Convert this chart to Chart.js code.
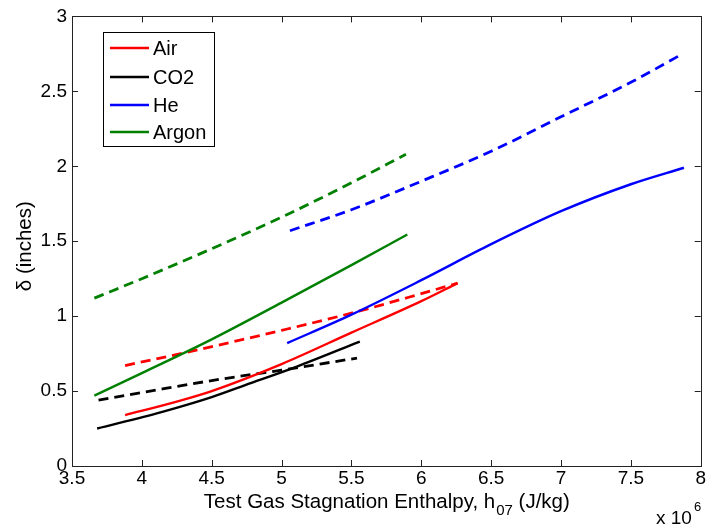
<!DOCTYPE html>
<html>
<head>
<meta charset="utf-8">
<script src="https://cdn.jsdelivr.net/npm/chart.js@4.4.1/dist/chart.umd.min.js"></script>
<style>
  html, body { margin: 0; padding: 0; background: #fff; }
  #wrap { width: 709px; height: 529px; }
</style>
</head>
<body>
<div id="wrap"><canvas id="chart" width="709" height="529"></canvas></div>
<script>
// Enthalpy values in units of 1e6 J/kg, delta in inches
const hAirSolid = [3.88, 4.25, 4.5, 5.0, 5.5, 6.0, 6.26];
const dAirSolid = [0.34, 0.43, 0.50, 0.68, 0.89, 1.10, 1.22];
const hAirDash = [3.88, 4.4, 5.0, 5.5, 6.0, 6.26];
const dAirDash = [0.67, 0.775, 0.905, 1.02, 1.15, 1.22];

const hCo2Solid = [3.68, 4.14, 4.5, 4.74, 5.1, 5.56];
const dCo2Solid = [0.25, 0.36, 0.46, 0.54, 0.66, 0.83];
const hCo2Dash = [3.69, 4.0, 4.5, 5.0, 5.54];
const dCo2Dash = [0.44, 0.49, 0.57, 0.64, 0.72];

const hHeSolid = [5.04, 5.5, 6.0, 6.5, 7.0, 7.5, 7.88];
const dHeSolid = [0.82, 1.01, 1.24, 1.48, 1.70, 1.88, 1.99];
const hHeDash = [5.06, 5.5, 6.0, 6.5, 7.0, 7.5, 7.85];
const dHeDash = [1.57, 1.71, 1.90, 2.10, 2.33, 2.56, 2.74];

const hArSolid = [3.66, 4.0, 4.5, 5.0, 5.5, 5.9];
const dArSolid = [0.47, 0.62, 0.845, 1.09, 1.34, 1.545];
const hArDash = [3.66, 4.0, 4.5, 5.0, 5.5, 5.89];
const dArDash = [1.12, 1.25, 1.45, 1.66, 1.89, 2.08];

const legendNames = ['Air', 'CO2', 'He', 'Argon'];
const legendColors = ['#ff0000', '#000000', '#0000ff', '#008000'];

const xTicks = [3.5, 4, 4.5, 5, 5.5, 6, 6.5, 7, 7.5, 8];
const yTicks = [0, 0.5, 1, 1.5, 2, 2.5, 3];

const FONT = '"Liberation Sans", Arial, sans-serif';

function pts(xs, ys) {
    return xs.map((x, i) => ({ x: x, y: ys[i] }));
}

function line(label, xs, ys, color, dashed) {
    return {
        label: label,
        data: pts(xs, ys),
        borderColor: color,
        borderWidth: dashed ? 2.8 : 2.4,
        borderDash: dashed ? [10, 6] : [],
        pointRadius: 0,
        fill: false,
        cubicInterpolationMode: 'monotone'
    };
}

// Inward ticks, box, legend, axis titles
const matlabLook = {
    id: 'matlabLook',
    afterDraw(chart) {
        const ctx = chart.ctx;
        const a = chart.chartArea;
        const xs = chart.scales.x, ys = chart.scales.y;
        ctx.save();
        ctx.strokeStyle = '#222';
        ctx.lineWidth = 1;
        ctx.beginPath();
        xTicks.forEach(v => {
            const px = Math.round(xs.getPixelForValue(v)) + 0.5;
            ctx.moveTo(px, a.bottom); ctx.lineTo(px, a.bottom - 6);
            ctx.moveTo(px, a.top); ctx.lineTo(px, a.top + 6);
        });
        yTicks.forEach(v => {
            const py = Math.round(ys.getPixelForValue(v)) + 0.5;
            ctx.moveTo(a.left, py); ctx.lineTo(a.left + 6, py);
            ctx.moveTo(a.right, py); ctx.lineTo(a.right - 6, py);
        });
        ctx.stroke();
        ctx.strokeRect(Math.round(a.left) + 0.5, Math.round(a.top) + 0.5,
            Math.round(a.right - a.left), Math.round(a.bottom - a.top));

        // legend
        ctx.fillStyle = '#fff';
        ctx.fillRect(103.5, 32.5, 111, 114);
        ctx.strokeStyle = '#000';
        ctx.strokeRect(103.5, 32.5, 111, 114);
        ctx.font = '20px ' + FONT;
        ctx.textBaseline = 'middle';
        ctx.textAlign = 'left';
        const rows = [48, 77, 105, 132];
        legendNames.forEach((name, i) => {
            ctx.strokeStyle = legendColors[i];
            ctx.lineWidth = 2.4;
            ctx.beginPath();
            ctx.moveTo(110, rows[i]); ctx.lineTo(149, rows[i]);
            ctx.stroke();
            ctx.fillStyle = '#000';
            ctx.fillText(name, 153, rows[i] + 1);
        });

        // x title with subscript
        ctx.fillStyle = '#000';
        ctx.textBaseline = 'alphabetic';
        const main = 'Test Gas Stagnation Enthalpy, h';
        const sub = '07';
        const tail = ' (J/kg)';
        ctx.font = '20.5px ' + FONT;
        const wMain = ctx.measureText(main).width;
        const wTail = ctx.measureText(tail).width;
        ctx.font = '15px ' + FONT;
        const wSub = ctx.measureText(sub).width;
        let x0 = (a.left + a.right) / 2 - (wMain + wSub + wTail) / 2;
        const base = 508;
        ctx.font = '20.5px ' + FONT;
        ctx.fillText(main, x0, base);
        ctx.font = '15px ' + FONT;
        ctx.fillText(sub, x0 + wMain + 1, base + 7);
        ctx.font = '20.5px ' + FONT;
        ctx.fillText(tail, x0 + wMain + wSub + 1, base);

        // exponent label
        ctx.font = '19px ' + FONT;
        ctx.fillText('x 10', 656, 524);
        ctx.font = '13px ' + FONT;
        ctx.fillText('6', 694, 511);

        // y title
        ctx.translate(25, (a.top + a.bottom) / 2 + 5);
        ctx.rotate(-Math.PI / 2);
        ctx.font = '20.5px ' + FONT;
        ctx.textAlign = 'center';
        ctx.textBaseline = 'middle';
        ctx.fillText('\u03b4 (inches)', 0, 0);
        ctx.restore();
    }
};

const chart = new Chart(document.getElementById('chart').getContext('2d'), {
    type: 'line',
    data: {
        datasets: [
            line('Air', hAirSolid, dAirSolid, '#ff0000', false),
            line('CO2', hCo2Solid, dCo2Solid, '#000000', false),
            line('He', hHeSolid, dHeSolid, '#0000ff', false),
            line('Argon', hArSolid, dArSolid, '#008000', false),
            line('Air (dashed)', hAirDash, dAirDash, '#ff0000', true),
            line('CO2 (dashed)', hCo2Dash, dCo2Dash, '#000000', true),
            line('He (dashed)', hHeDash, dHeDash, '#0000ff', true),
            line('Argon (dashed)', hArDash, dArDash, '#008000', true)
        ]
    },
    options: {
        responsive: false,
        animation: false,
        layout: { padding: { top: 13, right: 5, left: 0, bottom: 0 } },
        plugins: {
            legend: { display: false },
            tooltip: { enabled: false }
        },
        scales: {
            x: {
                type: 'linear',
                min: 3.5,
                max: 8,
                afterFit: s => { s.height = 63; },
                afterBuildTicks: s => { s.ticks = xTicks.map(v => ({ value: v })); },
                grid: { display: false, drawTicks: false },
                border: { display: false },
                ticks: {
                    color: '#000',
                    padding: 3,
                    maxRotation: 0,
                    autoSkip: false,
                    font: { family: FONT, size: 19, lineHeight: 1 },
                    callback: v => String(v)
                }
            },
            y: {
                min: 0,
                max: 3,
                afterFit: s => { s.width = 72; },
                afterBuildTicks: s => { s.ticks = yTicks.map(v => ({ value: v })); },
                grid: { display: false, drawTicks: false },
                border: { display: false },
                ticks: {
                    color: '#000',
                    padding: 5,
                    autoSkip: false,
                    font: { family: FONT, size: 19 },
                    callback: v => String(v)
                }
            }
        }
    },
    plugins: [matlabLook]
});
</script>
</body>
</html>
